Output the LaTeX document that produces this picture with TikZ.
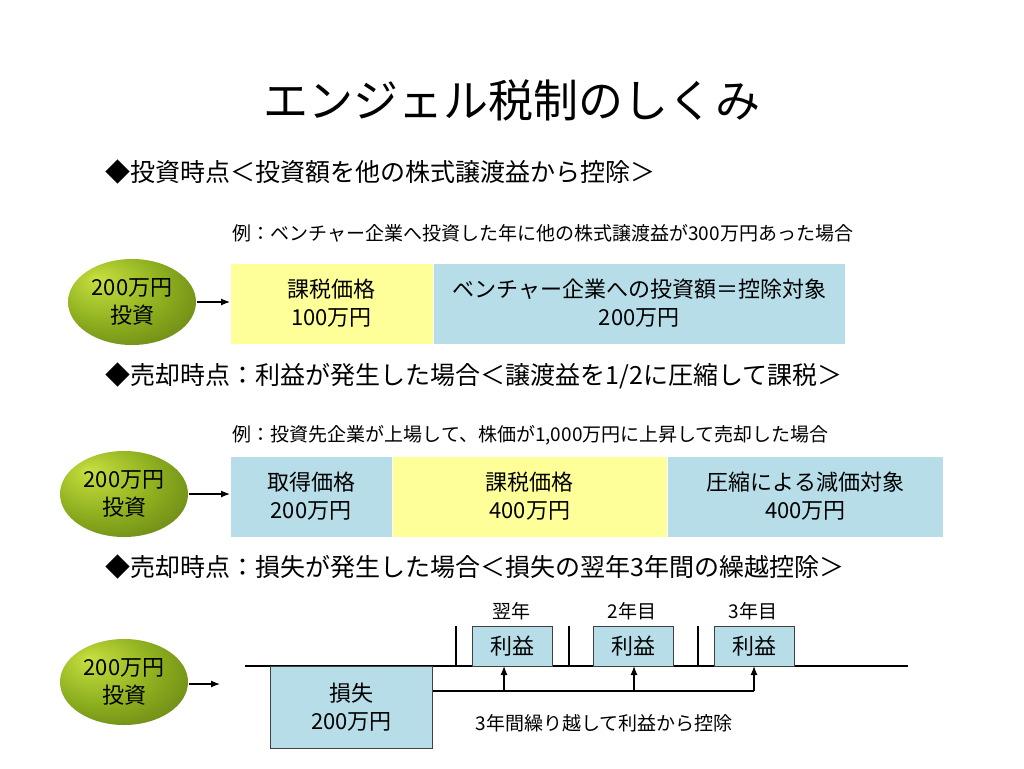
\documentclass[tikz,border=0pt]{standalone}
\usepackage{fontspec}
\setmainfont{Noto Sans CJK JP}
\usetikzlibrary{shapes.geometric,arrows.meta}
\definecolor{boxblue}{HTML}{B7DEE8}
\definecolor{boxyellow}{HTML}{FFFF99}
\definecolor{ballhi}{HTML}{C8E040}
\definecolor{ballmid}{HTML}{8CAE1E}
\definecolor{balllo}{HTML}{4C620E}
\pgfdeclareradialshading{greenball}{\pgfpoint{-14bp}{14bp}}{color(0bp)=(ballhi); color(22bp)=(ballmid); color(52bp)=(balllo); color(60bp)=(balllo)}
\begin{document}
\begin{tikzpicture}[>={Latex[length=9pt,width=7pt]}, x=1pt, y=-1pt, line width=1.2pt,
  cell/.style={anchor=north west, inner sep=0, align=center, minimum height=80, font=\fontsize{22}{28}\selectfont},
  ball/.style={ellipse, shading=greenball, minimum width=128, minimum height=86, inner sep=0, align=center, font=\fontsize{22}{28}\selectfont},
  head/.style={anchor=west, inner sep=0, font=\fontsize{25}{30}\selectfont},
  note/.style={anchor=west, inner sep=0, font=\fontsize{19}{22}\selectfont}]
\useasboundingbox (0,0) rectangle (1024,768);
\node (title) at (512,100) {\fontsize{45}{50}\selectfont エンジェル税制のしくみ};
% investment
\node[head] (h1) at (105,172) {◆投資時点＜投資額を他の株式譲渡益から控除＞};
\node[note] (n1) at (232,233) {例：ベンチャー企業へ投資した年に他の株式譲渡益が300万円あった場合};
\node[ball] (inv1) at (132,302) {200万円\\投資};
\node[cell, fill=boxyellow, minimum width=202] (tax1) at (230,263) {課税価格\\100万円};
\node[cell, fill=boxblue, minimum width=411] (ded1) at (tax1.north east) {ベンチャー企業への投資額＝控除対象\\200万円};
\draw[->] (inv1.east) -- (inv1.east -| tax1.west);
% sale with gain
\node[head] (h2) at (105,376) {◆売却時点：利益が発生した場合＜譲渡益を1/2に圧縮して課税＞};
\node[note] (n2) at (232,435) {例：投資先企業が上場して、株価が1,000万円に上昇して売却した場合};
\node[ball] (inv2) at (124,494) {200万円\\投資};
\node[cell, fill=boxblue, minimum width=161] (cost2) at (230,456) {取得価格\\200万円};
\node[cell, fill=boxyellow, minimum width=274] (tax2) at (cost2.north east) {課税価格\\400万円};
\node[cell, fill=boxblue, minimum width=275] (cut2) at (tax2.north east) {圧縮による減価対象\\400万円};
\draw[->] (inv2.east) -- (inv2.east -| cost2.west);
% sale with loss
\node[head] (h3) at (105,567) {◆売却時点：損失が発生した場合＜損失の翌年3年間の繰越控除＞};
\node[ball] (inv3) at (124,682) {200万円\\投資};
\coordinate (end3) at (220,684);
\draw[->] (inv3.east |- end3) -- (end3);
\coordinate (tl-l) at (245,666);
\coordinate (tl-r) at (908,666);
\draw (tl-l) -- (tl-r);
\node[cell, fill=boxblue, draw=black!75, minimum width=162, minimum height=82] (loss) at (270,666) {損失\\200万円};
\foreach \bx/\tx/\ax/\yr [count=\i] in {472/456/504/翌年, 593/569/634/2年目, 714/698/754/3年目}
{
\node[cell, fill=boxblue, draw=black!75, minimum width=80, minimum height=40] (p\i) at (\bx,626) {利益};
\node[font=\fontsize{19}{22}\selectfont] at (\bx+39,611) {\yr};
\draw (\tx,626)--(\tx,666);
\draw[->] (\ax,691)--(\ax,666);
}
\coordinate (c3) at (754,691);
\draw (loss.east |- c3) -- (c3);
\node[note] (n3) at (475,723) {3年間繰り越して利益から控除};
\end{tikzpicture}
\end{document}
